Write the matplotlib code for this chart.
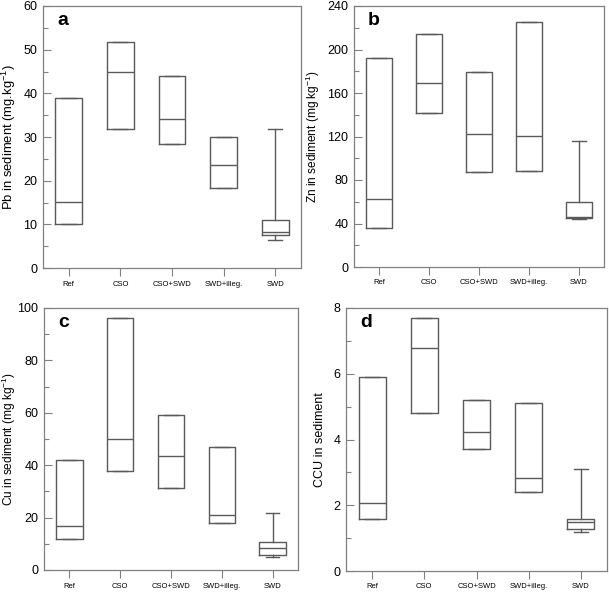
import matplotlib
matplotlib.use("Agg")
import matplotlib.pyplot as plt
from matplotlib.ticker import MultipleLocator

plt.rcParams['font.family'] = ['Liberation Sans', 'DejaVu Sans']
plt.rcParams['mathtext.default'] = 'regular'

# ------------------------------------------------------------------------
# data (whislo, q1, median, q3, whishi)
sites = ['Ref', 'CSO', 'CSO+SWD', 'SWD+illeg.', 'SWD']

pb_stats = [(10.0, 10.0, 15.1, 38.9, 38.9),
            (31.8, 31.8, 45.0, 51.7, 51.7),
            (28.4, 28.4, 34.1, 44.0, 44.0),
            (18.4, 18.4, 23.5, 30.0, 30.0),
            (6.5, 7.5, 8.2, 11.1, 31.8)]

zn_stats = [(36.3, 36.3, 62.2, 192.4, 192.4),
            (141.5, 141.5, 169.6, 214.7, 214.7),
            (87.2, 87.2, 122.3, 179.6, 179.6),
            (88.1, 88.1, 120.2, 225.7, 225.7),
            (43.9, 45.1, 45.7, 59.8, 116.2)]

cu_stats = [(11.8, 11.8, 16.9, 42.0, 42.0),
            (37.9, 37.9, 50.0, 96.1, 96.1),
            (31.2, 31.2, 43.5, 59.0, 59.0),
            (17.8, 17.8, 20.9, 46.9, 46.9),
            (4.8, 5.9, 8.4, 10.8, 21.9)]

ccu_stats = [(1.59, 1.59, 2.08, 5.90, 5.90),
             (4.80, 4.80, 6.79, 7.70, 7.70),
             (3.70, 3.70, 4.23, 5.19, 5.19),
             (2.40, 2.40, 2.84, 5.10, 5.10),
             (1.18, 1.28, 1.48, 1.59, 3.10)]

panels = [
    # letter, stats, ylabel, ymax, major, minor, label size, label x
    ('a', pb_stats, 'Pb in sediment (mg.kg$^{-1}$)', 60, 10, 5, 9.4, -0.098),
    ('b', zn_stats, 'Zn in sediment (mg kg$^{-1}$)', 240, 40, 20, 8.6, -0.128),
    ('c', cu_stats, 'Cu in sediment (mg kg$^{-1}$)', 100, 20, 10, 8.6, -0.104),
    ('d', ccu_stats, 'CCU in sediment', 8, 2, 1, 9.0, -0.077),
]

# axes boxes in pixels: left, top, right, bottom
boxes_px = [(43, 6, 301, 268), (354, 6, 604, 267),
            (44, 308, 298, 570), (346, 308, 607, 571)]

W, H = 609, 593
fig = plt.figure(figsize=(W / 100, H / 100), dpi=100)

line_col = '#5a5a5a'
spine_col = '#808080'

for (letter, stats, ylab, ymax, major, minor, labsize, labx), (l, t, r, b) in zip(panels, boxes_px):
    ax = fig.add_axes([l / W, 1 - b / H, (r - l) / W, (b - t) / H])
    bxp_stats = []
    for name, (lo, q1, med, q3, hi) in zip(sites, stats):
        bxp_stats.append(dict(label=name, whislo=lo, q1=q1, med=med, q3=q3,
                              whishi=hi, fliers=[]))
    ax.bxp(bxp_stats, widths=0.52, capwidths=0.27, showfliers=False,
           boxprops=dict(color=line_col, lw=1.0),
           medianprops=dict(color=line_col, lw=1.0),
           whiskerprops=dict(color=line_col, lw=1.0),
           capprops=dict(color=line_col, lw=1.0))

    ax.set_xlim(0.5, 5.5)
    ax.set_ylim(0, ymax)
    ax.yaxis.set_major_locator(MultipleLocator(major))
    ax.yaxis.set_minor_locator(MultipleLocator(minor))
    ax.tick_params(axis='y', which='major', direction='in', length=6,
                   width=0.8, color=spine_col, labelsize=9, pad=4)
    ax.tick_params(axis='y', which='minor', direction='in', length=3.5,
                   width=0.8, color=spine_col)
    ax.tick_params(axis='x', which='major', direction='out', length=6,
                   width=0.8, color=spine_col, labelsize=5.5, pad=3)
    for sp in ax.spines.values():
        sp.set_color(spine_col)
        sp.set_linewidth(0.9)

    ax.set_ylabel(ylab, fontsize=labsize)
    ax.yaxis.set_label_coords(labx, 0.5)
    ax.text(0.055, 0.945, letter, transform=ax.transAxes, fontsize=14,
            fontweight='bold', ha='left', va='center')

fig.savefig('out.png', dpi=100)
